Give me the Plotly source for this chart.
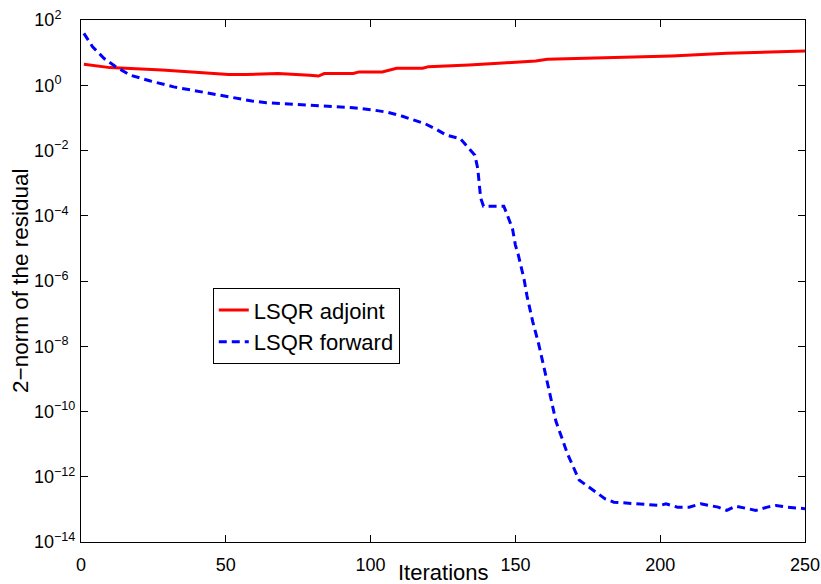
import plotly.graph_objects as go

# Residual history of the two LSQR runs (iteration, 2-norm of residual)
adjoint_iter = [1, 10, 28, 41, 51, 57, 68, 79, 82, 84, 94, 96, 104, 109, 118,
                120, 134, 147, 157, 161, 169, 185, 204, 223, 250]
adjoint_res = [4.37, 3.47, 2.95, 2.40, 2.14, 2.14, 2.29, 2.04, 1.91, 2.29, 2.29,
               2.57, 2.57, 3.31, 3.31, 3.72, 4.17, 4.90, 5.50, 6.31, 6.61, 6.92,
               7.94, 9.55, 11.2]

forward_iter = [1, 4, 8, 12, 17, 24, 32, 40, 51, 59, 64, 74, 85, 94, 101, 106,
                111, 115, 119, 123, 126, 131, 133, 136, 137, 138, 139, 146, 147,
                149, 150, 151, 153, 154, 156, 158, 160, 162, 164, 166, 168, 170,
                172, 177, 181, 184, 191, 200, 202, 206, 210, 214, 220, 223, 226,
                230, 233, 237, 240, 244, 250]
forward_res = [38.9, 15.1, 6.6, 3.7, 2.04, 1.35, 0.89, 0.66, 0.45, 0.33, 0.29,
               0.257, 0.229, 0.204, 0.174, 0.148, 0.112, 0.085, 0.065, 0.043,
               0.030, 0.023, 0.0148, 0.0072, 2.8e-3, 3.5e-4, 1.95e-4, 1.95e-4,
               1.17e-4, 4.0e-5, 1.26e-5, 6.3e-6, 1.12e-6, 3.5e-7, 5.6e-8, 1.2e-8,
               2.0e-9, 2.8e-10, 5.0e-11, 1.6e-11, 5.0e-12, 2.0e-12, 7.9e-13,
               3.8e-13, 2.1e-13, 1.66e-13, 1.48e-13, 1.32e-13, 1.48e-13, 1.17e-13,
               1.17e-13, 1.48e-13, 1.17e-13, 9.3e-14, 1.26e-13, 1.07e-13, 9.3e-14,
               1.17e-13, 1.32e-13, 1.17e-13, 1.05e-13]

x_ticks = [0, 50, 100, 150, 200, 250]
y_exponents = [-14, -12, -10, -8, -6, -4, -2, 0, 2]
y_ticks = [10.0 ** e for e in y_exponents]

x_title = "Iterations"
y_title = "2\u2212norm of the residual"


def power_label(e):
    # left-align the "10" part by padding short exponents with no-break spaces
    exp = str(e).replace("-", "\u2212")
    pad = "\u00a0" * (2 * (3 - len(exp)))
    return "10<sup>%s%s</sup>" % (exp, pad)


y_labels = [power_label(e) for e in y_exponents]

FONT = "Liberation Sans, Arial, Helvetica, sans-serif"

fig = go.Figure()
fig.add_trace(go.Scatter(
    x=adjoint_iter, y=adjoint_res, mode="lines", name="LSQR adjoint",
    line=dict(color="#ff0000", width=3),
))
fig.add_trace(go.Scatter(
    x=forward_iter, y=forward_res, mode="lines", name="LSQR forward",
    line=dict(color="#0000ff", width=3, dash="8px,5px"),
))

axis_common = dict(
    showline=True, linecolor="black", linewidth=1, mirror="ticks",
    ticks="inside", ticklen=7, tickcolor="black", tickwidth=1,
    showgrid=False, zeroline=False, automargin=False,
    tickfont=dict(family=FONT, size=18, color="black"),
)

fig.update_layout(
    width=821, height=584,
    margin=dict(l=81, r=16, t=20, b=42),
    paper_bgcolor="white", plot_bgcolor="white",
    font=dict(family=FONT, color="black"),
    xaxis=dict(range=[0, 250], tickvals=x_ticks, ticklabelstandoff=6,
               **axis_common),
    yaxis=dict(type="log", range=[-14, 2], tickvals=y_ticks, ticktext=y_labels,
               ticklabelstandoff=1, **axis_common),
    legend=dict(
        x=0.182, y=0.486, xanchor="left", yanchor="top",
        bgcolor="white", bordercolor="black", borderwidth=1,
        font=dict(family=FONT, size=22, color="black"),
        itemwidth=30, tracegroupgap=0,
    ),
    showlegend=True,
)

# axis titles placed as annotations so their offsets from the frame are exact
fig.add_annotation(text=x_title, xref="paper", yref="paper", x=0.5, y=0,
                   xanchor="center", yanchor="middle", yshift=-30,
                   showarrow=False, font=dict(family=FONT, size=22, color="black"))
fig.add_annotation(text=y_title, xref="paper", yref="paper", x=0, y=0.5,
                   xanchor="center", yanchor="middle", xshift=-61, textangle=-90,
                   showarrow=False, font=dict(family=FONT, size=22.5, color="black"))

fig.write_html("out.html")
